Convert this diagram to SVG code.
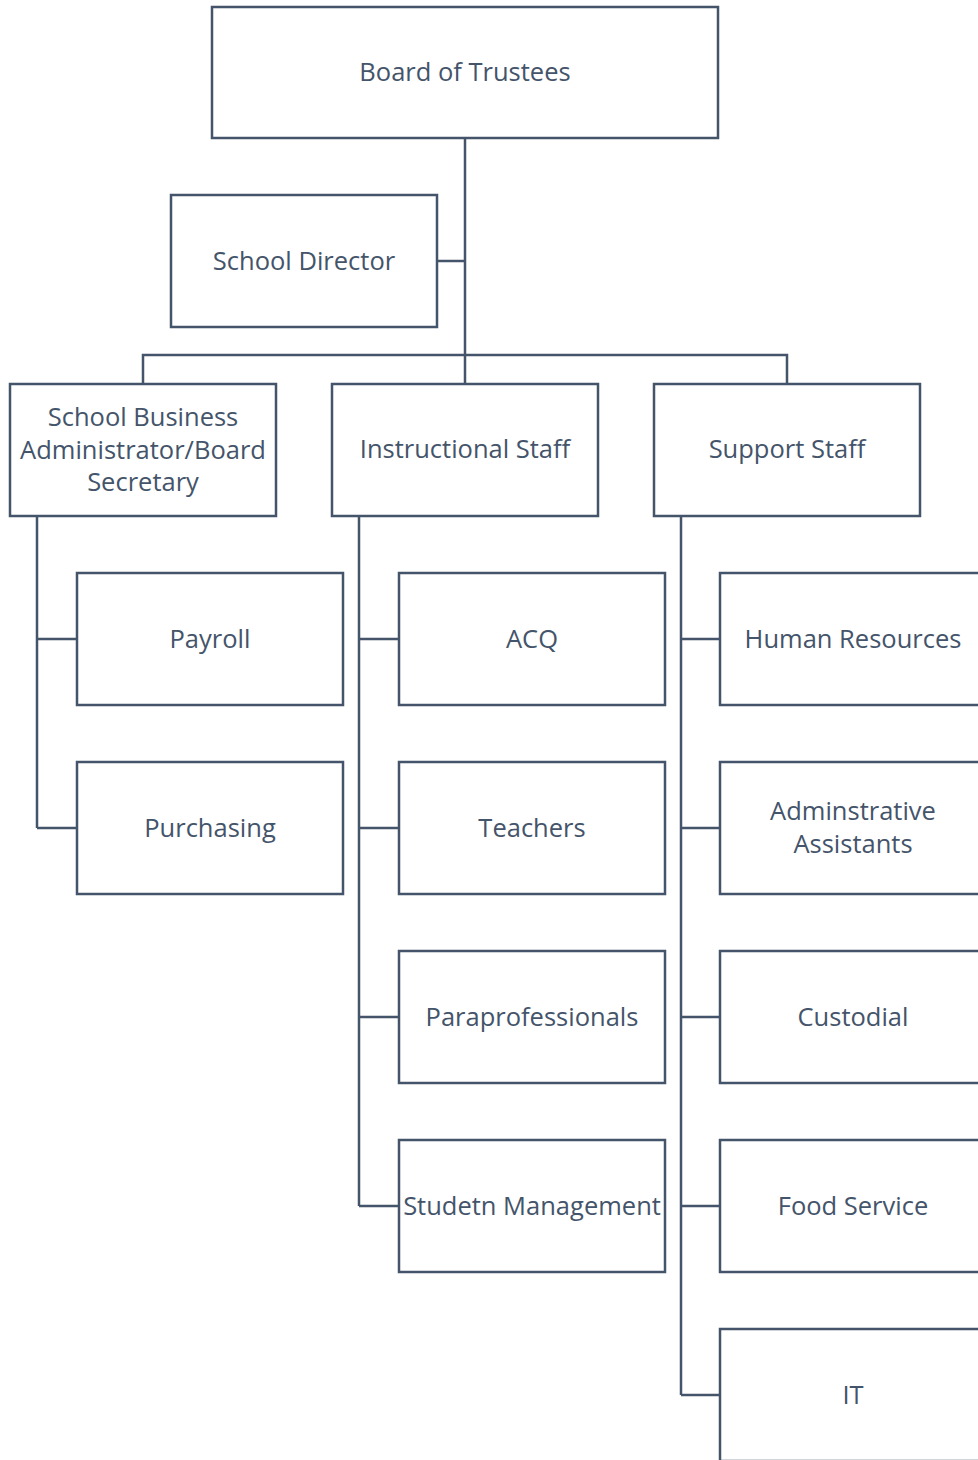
<svg xmlns="http://www.w3.org/2000/svg" width="978" height="1460" viewBox="0 0 978 1460">
<style>
.box{fill:#fff;stroke:#44546A;stroke-width:2.5}
.ln{fill:none;stroke:#44546A;stroke-width:2.5}
text{font-family:"Open Sans","Noto Sans",sans-serif;font-size:25.5px;fill:#44546A;text-anchor:middle;dominant-baseline:central}
</style>
<rect width="978" height="1460" fill="#fff"/>
<g id="connectors">
<path class="ln" d="M465,138V384M437,261H465M143,384V355H787V384"/>
<path class="ln" d="M37,516V828M37,639H77M37,828H77"/>
<path class="ln" d="M359,516V1206M359,639H399M359,828H399M359,1017H399M359,1206H399"/>
<path class="ln" d="M681,516V1395M681,639H720M681,828H720M681,1017H720M681,1206H720M681,1395H720"/>
</g>
<g id="board"><rect class="box" x="212" y="7" width="506" height="131"/><text x="465" y="71">Board of Trustees</text></g>
<g id="director"><rect class="box" x="171" y="195" width="266" height="132"/><text x="304" y="260">School Director</text></g>
<g id="sba"><rect class="box" x="10" y="384" width="266" height="132"/><text x="143" y="416">School Business</text><text x="143" y="449">Administrator/Board</text><text x="143" y="481">Secretary</text></g>
<g id="instructional"><rect class="box" x="332" y="384" width="266" height="132"/><text x="465" y="448">Instructional Staff</text></g>
<g id="support"><rect class="box" x="654" y="384" width="266" height="132"/><text x="787" y="448">Support Staff</text></g>
<g id="payroll"><rect class="box" x="77" y="573" width="266" height="132"/><text x="210" y="638">Payroll</text></g>
<g id="purchasing"><rect class="box" x="77" y="762" width="266" height="132"/><text x="210" y="827">Purchasing</text></g>
<g id="acq"><rect class="box" x="399" y="573" width="266" height="132"/><text x="532" y="638">ACQ</text></g>
<g id="teachers"><rect class="box" x="399" y="762" width="266" height="132"/><text x="532" y="827">Teachers</text></g>
<g id="para"><rect class="box" x="399" y="951" width="266" height="132"/><text x="532" y="1016">Paraprofessionals</text></g>
<g id="studetn"><rect class="box" x="399" y="1140" width="266" height="132"/><text x="532" y="1205">Studetn Management</text></g>
<g id="hr"><rect class="box" x="720" y="573" width="266" height="132"/><text x="853" y="638">Human Resources</text></g>
<g id="admin"><rect class="box" x="720" y="762" width="266" height="132"/><text x="853" y="810">Adminstrative</text><text x="853" y="843">Assistants</text></g>
<g id="custodial"><rect class="box" x="720" y="951" width="266" height="132"/><text x="853" y="1016">Custodial</text></g>
<g id="food"><rect class="box" x="720" y="1140" width="266" height="132"/><text x="853" y="1205">Food Service</text></g>
<g id="it"><rect class="box" x="720" y="1329" width="266" height="132"/><text x="853" y="1394">IT</text></g>
</svg>
